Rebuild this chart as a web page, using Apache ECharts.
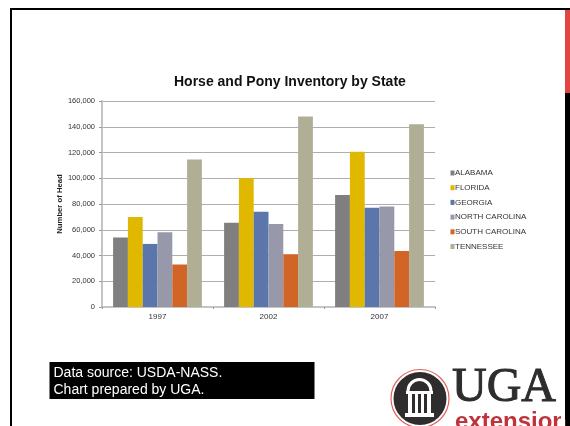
<!DOCTYPE html>
<html><head><meta charset="utf-8">
<style>html,body{margin:0;padding:0;background:#fff}#c{width:570px;height:426px}</style>
<script src="https://cdn.jsdelivr.net/npm/echarts@6/dist/echarts.min.js"></script>
</head><body><div id="c"></div>
<script>
const years = ['1997','2002','2007'];
const alabama = [54000,65500,87000];
const florida = [70000,100000,120500];
const georgia = [49000,74000,77000];
const northCarolina = [58000,64500,78000];
const southCarolina = [33000,41000,43500];
const tennessee = [114500,148000,142000];
const names = ['ALABAMA','FLORIDA','GEORGIA','NORTH CAROLINA','SOUTH CAROLINA','TENNESSEE'];
const colors = ['#7f7f7f','#e0b800','#5a76ab','#9799aa','#d16527','#b0ae94'];
const values = [alabama,florida,georgia,northCarolina,southCarolina,tennessee];
const font = '"Liberation Sans", Arial, sans-serif';
const chart = echarts.init(document.getElementById('c'),null,{renderer:'canvas'});
chart.setOption({
  animation:false,
  backgroundColor:'#fff',
  textStyle:{fontFamily:font},
  title:{text:'Horse and Pony Inventory by State',left:174,top:75,padding:0,
    textStyle:{fontFamily:font,fontSize:14,fontWeight:'bold',color:'#111'}},
  legend:{orient:'vertical',left:450.5,top:169,padding:0,itemWidth:4,itemHeight:5,itemGap:6.7,
    icon:'rect',data:names,textStyle:{fontFamily:font,fontSize:8,color:'#333',padding:[0,0,0,-4.5]}},
  grid:{left:102,right:135,top:101,bottom:119,containLabel:false},
  xAxis:{type:'category',data:years,
    axisLine:{lineStyle:{color:'#c4c4c4',width:2}},
    axisTick:{show:true,alignWithLabel:false,length:2,lineStyle:{color:'#999'}},
    axisLabel:{fontSize:8,color:'#333',margin:6}},
  yAxis:{type:'value',min:0,max:160000,interval:20000,
    name:'Number of Head',nameLocation:'middle',nameGap:38,nameRotate:90,nameMoveOverlap:false,
    nameTextStyle:{fontFamily:font,fontSize:7.7,fontWeight:'bold',color:'#222'},
    axisLine:{show:true,lineStyle:{color:'#c4c4c4',width:2}},
    axisTick:{show:true,length:3,lineStyle:{color:'#999'}},
    axisLabel:{fontSize:7.5,color:'#333',margin:7,
      formatter:v=>v.toLocaleString('en-US')},
    splitLine:{show:true,lineStyle:{color:'#aeaeae',width:1}}},
  series:names.map((n,i)=>({type:'bar',name:n,data:values[i],barGap:'0%',barCategoryGap:'20%',
    itemStyle:{color:colors[i]}})),
  graphic:[
    {type:'rect',z:50,shape:{x:10,y:8,width:560,height:2},style:{fill:'#000'}},
    {type:'rect',z:50,shape:{x:10,y:10,width:2,height:416},style:{fill:'#000'}},
    {type:'rect',z:50,shape:{x:565,y:10,width:5,height:83},style:{fill:'#e2453f'}},
    {type:'rect',z:50,shape:{x:565,y:93,width:5,height:333},style:{fill:'#000'}},
    {type:'rect',z:50,shape:{x:49.5,y:362,width:265,height:37},style:{fill:'#000'}},
    {type:'text',z:51,x:53.5,y:365,style:{text:'Data source: USDA-NASS.\nChart prepared by UGA.',fill:'#fff',
      font:'14px '+font,lineHeight:17}},
    {type:'circle',z:50,shape:{cx:420,cy:398.5,r:29},style:{fill:'#fff',stroke:'#e2625e',lineWidth:1.2}},
    {type:'circle',z:50,shape:{cx:420,cy:398.5,r:26.5},style:{fill:'#2e2c2c'}},
    {type:'sector',z:51,shape:{cx:419.5,cy:391,r:13,r0:10,startAngle:Math.PI,endAngle:2*Math.PI},style:{fill:'#fff'}},
    {type:'rect',z:51,shape:{x:406,y:391,width:27,height:3},style:{fill:'#fff'}},
    {type:'rect',z:51,shape:{x:408,y:394,width:4,height:19},style:{fill:'#fff'}},
    {type:'rect',z:51,shape:{x:415,y:394,width:3,height:19},style:{fill:'#fff'}},
    {type:'rect',z:51,shape:{x:421,y:394,width:3,height:19},style:{fill:'#fff'}},
    {type:'rect',z:51,shape:{x:427,y:394,width:4,height:19},style:{fill:'#fff'}},
    {type:'rect',z:51,shape:{x:405,y:413,width:29,height:4},style:{fill:'#fff'}},
    {type:'text',z:51,x:452,y:364,style:{text:'UGA',fill:'#2e2c2c',stroke:'#2e2c2c',lineWidth:1,font:'48px "Liberation Serif", serif'}},
    {type:'text',z:51,x:455,y:410,style:{text:'extension',fill:'#c0333a',font:'bold 24px '+font}},
    {type:'rect',z:52,shape:{x:561,y:360,width:4,height:66},style:{fill:'#fff'}}
  ]
});
</script></body></html>
